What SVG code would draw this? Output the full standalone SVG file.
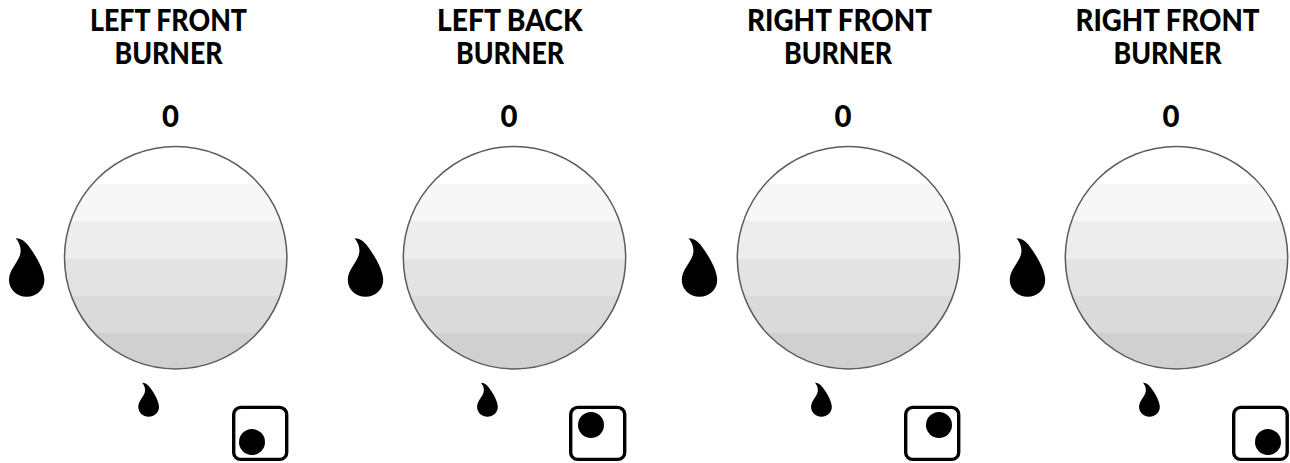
<svg xmlns="http://www.w3.org/2000/svg" width="1290" height="463" viewBox="0 0 1290 463">
<style>
text{font-family:"Lato","Liberation Sans",sans-serif;font-weight:900;fill:#000;text-anchor:middle}
.t{font-size:30px}
.z{font-size:31px}
.ring{fill:none;stroke:#5c5c5c;stroke-width:1.5}
.box{fill:#fff;stroke:#000;stroke-width:3.4}
</style>
<defs>
<clipPath id="c"><circle cx="175.7" cy="257.7" r="111.2"/></clipPath>
<path id="drop" d="M15.7 238.300C21 238.500 25 241 29 246.500C36 256 44.400 270 44.400 280C44.400 289.500 36.500 296.800 26.700 296.800C17 296.800 9 289.500 9 280C9 270 17 264 20 255C21.500 250 20.500 244 15.700 238.300Z"/>
<g id="knob">
<g clip-path="url(#c)">
<rect x="60" y="140" width="232" height="44" fill="#fff"/>
<rect x="60" y="184" width="232" height="37.500" fill="#f7f7f7"/>
<rect x="60" y="221" width="232" height="38" fill="#ededed"/>
<rect x="60" y="259" width="232" height="37" fill="#e3e3e3"/>
<rect x="60" y="296" width="232" height="37" fill="#dadada"/>
<rect x="60" y="333" width="232" height="40" fill="#d0d0d0"/>
</g>
<circle class="ring" cx="175.700" cy="257.700" r="111.200"/>
<use href="#drop"/>
<use href="#drop" transform="translate(138.300 382.700) scale(.585 .58) translate(-9 -238.300)"/>
</g>
</defs>
<g id="burner-1">
<use href="#knob"/>
<text class="t" x="168.500" y="31" textLength="157" lengthAdjust="spacingAndGlyphs">LEFT FRONT</text>
<text class="t" x="168.500" y="63.500" textLength="108" lengthAdjust="spacingAndGlyphs">BURNER</text>
<text class="z" x="170.500" y="127" textLength="17" lengthAdjust="spacingAndGlyphs">0</text>
<rect class="box" x="233.700" y="407.400" width="53" height="52" rx="7"/>
<circle cx="252" cy="442" r="13"/>
</g>
<g id="burner-2">
<use href="#knob" x="338.800"/>
<text class="t" x="509.800" y="31" textLength="145.500" lengthAdjust="spacingAndGlyphs">LEFT BACK</text>
<text class="t" x="510" y="63.500" textLength="108" lengthAdjust="spacingAndGlyphs">BURNER</text>
<text class="z" x="509" y="127" textLength="17" lengthAdjust="spacingAndGlyphs">0</text>
<rect class="box" x="570.700" y="407.400" width="54" height="52" rx="7"/>
<circle cx="591" cy="425" r="13"/>
</g>
<g id="burner-3">
<use href="#knob" x="672.800"/>
<text class="t" x="839.500" y="31" textLength="185" lengthAdjust="spacingAndGlyphs">RIGHT FRONT</text>
<text class="t" x="838" y="63.500" textLength="108" lengthAdjust="spacingAndGlyphs">BURNER</text>
<text class="z" x="843" y="127" textLength="17" lengthAdjust="spacingAndGlyphs">0</text>
<rect class="box" x="905.700" y="407.400" width="53" height="52" rx="7"/>
<circle cx="939" cy="425" r="13"/>
</g>
<g id="burner-4">
<use href="#knob" x="1000.800"/>
<text class="t" x="1167.500" y="31" textLength="184" lengthAdjust="spacingAndGlyphs">RIGHT FRONT</text>
<text class="t" x="1167.500" y="63.500" textLength="108" lengthAdjust="spacingAndGlyphs">BURNER</text>
<text class="z" x="1171" y="127" textLength="17" lengthAdjust="spacingAndGlyphs">0</text>
<rect class="box" x="1233.700" y="407.400" width="53.500" height="52" rx="7"/>
<circle cx="1268" cy="442" r="13"/>
</g>
</svg>
